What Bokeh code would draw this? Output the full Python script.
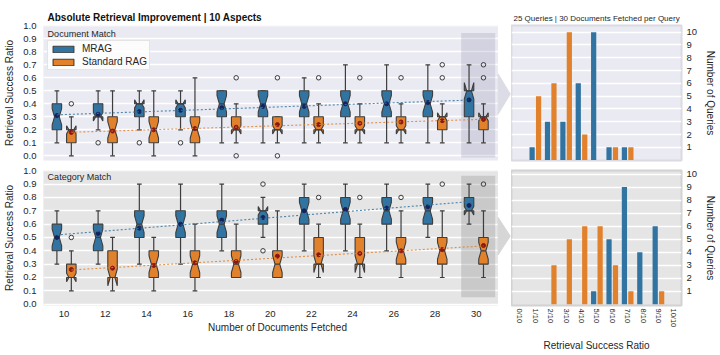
import numpy as np
from bokeh.plotting import figure
from bokeh.models import Range1d, FixedTicker, Legend, LegendItem, PrintfTickFormatter
from bokeh.layouts import column, row
from bokeh.embed import file_html
from bokeh.resources import INLINE
from bokeh.core.properties import value

# ---------------- data ----------------
docs = [10, 12, 14, 16, 18, 20, 22, 24, 26, 28, 30]
y_ticks = [0.0, 0.1, 0.2, 0.3, 0.4, 0.5, 0.6, 0.7, 0.8, 0.9, 1.0]
n_queries = 25

# Document Match - MRAG
doc_mrag_q1 = [0.2, 0.3, 0.3, 0.3, 0.3, 0.3, 0.3, 0.3, 0.3, 0.3, 0.3]
doc_mrag_med = [0.3, 0.3, 0.4, 0.4, 0.4, 0.4, 0.4, 0.4, 0.4, 0.4, 0.5]
doc_mrag_q3 = [0.4, 0.4, 0.4, 0.4, 0.5, 0.5, 0.5, 0.5, 0.5, 0.5, 0.5]
doc_mrag_lo = [0.1, 0.2, 0.2, 0.2, 0.1, 0.1, 0.1, 0.1, 0.1, 0.1, 0.1]
doc_mrag_hi = [0.5, 0.5, 0.5, 0.5, 0.5, 0.5, 0.6, 0.7, 0.7, 0.7, 0.7]
doc_mrag_mean = [0.31, 0.32, 0.34, 0.35, 0.37, 0.38, 0.38, 0.40, 0.40, 0.41, 0.43]
doc_mrag_out_x = [12, 14, 16]
doc_mrag_out_y = [0.1, 0.1, 0.1]

# Document Match - Standard RAG
doc_std_q1 = [0.1, 0.1, 0.1, 0.1, 0.2, 0.2, 0.2, 0.2, 0.2, 0.2, 0.2]
doc_std_med = [0.2, 0.2, 0.2, 0.2, 0.2, 0.2, 0.2, 0.2, 0.2, 0.3, 0.3]
doc_std_q3 = [0.2, 0.3, 0.3, 0.3, 0.3, 0.3, 0.3, 0.3, 0.3, 0.3, 0.3]
doc_std_lo = [0.0, 0.0, 0.0, 0.0, 0.1, 0.1, 0.1, 0.1, 0.1, 0.1, 0.1]
doc_std_hi = [0.3, 0.5, 0.5, 0.6, 0.4, 0.3, 0.4, 0.4, 0.4, 0.4, 0.4]
doc_std_mean = [0.18, 0.19, 0.20, 0.21, 0.22, 0.24, 0.24, 0.25, 0.26, 0.27, 0.28]
doc_std_out_x = [10, 18, 18, 20, 20, 22, 24, 26, 28, 28, 30, 30]
doc_std_out_y = [0.4, 0.6, 0.0, 0.6, 0.0, 0.6, 0.6, 0.6, 0.6, 0.7, 0.6, 0.7]

# Category Match - MRAG
cat_mrag_q1 = [0.4, 0.4, 0.5, 0.5, 0.5, 0.6, 0.6, 0.6, 0.6, 0.6, 0.7]
cat_mrag_med = [0.5, 0.5, 0.6, 0.6, 0.6, 0.7, 0.7, 0.7, 0.7, 0.7, 0.7]
cat_mrag_q3 = [0.6, 0.6, 0.7, 0.7, 0.7, 0.7, 0.8, 0.8, 0.8, 0.8, 0.8]
cat_mrag_lo = [0.3, 0.3, 0.3, 0.3, 0.4, 0.5, 0.4, 0.4, 0.4, 0.5, 0.6]
cat_mrag_hi = [0.7, 0.7, 0.9, 0.9, 0.9, 0.8, 0.9, 0.9, 0.9, 0.9, 0.9]
cat_mrag_mean = [0.50, 0.53, 0.57, 0.60, 0.63, 0.65, 0.70, 0.71, 0.72, 0.73, 0.74]
cat_mrag_out_x = [20, 20]
cat_mrag_out_y = [0.9, 0.4]

# Category Match - Standard RAG
cat_std_q1 = [0.2, 0.2, 0.2, 0.2, 0.2, 0.2, 0.3, 0.3, 0.3, 0.3, 0.3]
cat_std_med = [0.2, 0.2, 0.3, 0.3, 0.3, 0.3, 0.3, 0.3, 0.4, 0.4, 0.4]
cat_std_q3 = [0.3, 0.4, 0.4, 0.4, 0.4, 0.4, 0.5, 0.5, 0.5, 0.5, 0.5]
cat_std_lo = [0.1, 0.1, 0.1, 0.1, 0.2, 0.2, 0.2, 0.2, 0.2, 0.2, 0.2]
cat_std_hi = [0.4, 0.5, 0.5, 0.6, 0.6, 0.7, 0.6, 0.6, 0.7, 0.7, 0.7]
cat_std_mean = [0.26, 0.27, 0.29, 0.31, 0.32, 0.36, 0.37, 0.38, 0.40, 0.41, 0.44]
cat_std_out_x = [10, 22, 24, 26, 28, 30]
cat_std_out_y = [0.5, 0.8, 0.8, 0.8, 0.9, 0.9]

# Histograms (30 documents fetched)
ratio_pos = [0, 1, 2, 3, 4, 5, 6, 7, 8, 9, 10]
ratio_labels = ["0/10", "1/10", "2/10", "3/10", "4/10", "5/10", "6/10", "7/10", "8/10", "9/10", "10/10"]
count_ticks = [1, 2, 3, 4, 5, 6, 7, 8, 9, 10]
doc_mrag_counts = [0, 1, 3, 3, 6, 10, 1, 1, 0, 0, 0]
doc_std_counts = [0, 5, 6, 10, 2, 0, 1, 1, 0, 0, 0]
cat_mrag_counts = [0, 0, 0, 0, 0, 1, 5, 9, 4, 6, 0]
cat_std_counts = [0, 0, 3, 5, 6, 6, 3, 1, 0, 1, 0]

# ---------------- styling ----------------
FONT = "Liberation Sans"
BLUE = "#3274a1"
ORANGE = "#e1812c"
EDGE = "#3d3d3d"
TXT = "#262626"
BOX_W = 0.46
OFF = 0.35
X0, XBG, X1 = 9.0, 31.03, 31.71


def box_polys(xc, q1, med, q3, w):
    xs, ys = [], []
    for x, a, m, b in zip(xc, q1, med, q3):
        d = 1.57 * (b - a) / np.sqrt(n_queries)
        l, r = x - w / 2, x + w / 2
        nl, nr = x - w / 4, x + w / 4
        xs.append([l, r, r, nr, r, r, l, l, nl, l, l])
        ys.append([a, a, m - d, m, m + d, b, b, m + d, m, m - d, a])
    return xs, ys


def draw_series(p, off, q1, med, q3, lo, hi, mean, ox, oy, color, mean_color):
    xc = [x + off for x in docs]
    w = BOX_W
    p.segment(x0=xc, y0=q1, x1=xc, y1=lo, line_color=EDGE, line_width=1.2)
    p.segment(x0=xc, y0=q3, x1=xc, y1=hi, line_color=EDGE, line_width=1.2)
    p.segment(x0=[x - w / 4 for x in xc], y0=lo, x1=[x + w / 4 for x in xc], y1=lo,
              line_color=EDGE, line_width=1.2)
    p.segment(x0=[x - w / 4 for x in xc], y0=hi, x1=[x + w / 4 for x in xc], y1=hi,
              line_color=EDGE, line_width=1.2)
    xs, ys = box_polys(xc, q1, med, q3, w)
    r = p.patches(xs=xs, ys=ys, fill_color=color, line_color=EDGE, line_width=1.1)
    p.segment(x0=[x - w / 4 for x in xc], y0=med, x1=[x + w / 4 for x in xc], y1=med,
              line_color=EDGE, line_width=1.2)
    p.scatter([x + off for x in ox], oy, marker="circle", size=4.5, fill_alpha=0,
              line_color=EDGE, line_width=1)
    p.scatter(xc, mean, marker="circle", size=4, color=mean_color)
    return r, xc


def trend(p, xc, mean, color):
    k, b = np.polyfit(xc, mean, 1)
    xl = [xc[0], xc[-1]]
    p.line(xl, [k * x + b for x in xl], line_color=color, line_width=1.1,
           line_dash="2 2", line_alpha=0.85)


def style_axes(p):
    for ax in p.axis:
        ax.axis_line_color = None
        ax.major_tick_line_color = None
        ax.minor_tick_line_color = None
        ax.major_tick_out = 0
        ax.major_tick_in = 0
        ax.minor_tick_out = 0
        ax.minor_tick_in = 0
        ax.major_label_text_font = FONT
        ax.major_label_text_font_size = "9.5px"
        ax.major_label_text_color = TXT
        ax.axis_label_text_font = FONT
        ax.axis_label_text_font_size = "10px"
        ax.axis_label_text_font_style = "normal"
        ax.axis_label_text_color = TXT
    p.xgrid.grid_line_color = None
    p.ygrid.grid_line_color = "white"
    p.ygrid.grid_line_width = 1.3


def make_left(yr, height, btop, bbot, xloc, bg, hl, hl_alpha, hl_y, arrow_y, arrow_color,
              mrag, std, panel_label, label_y):
    p = figure(width=511, height=height, x_range=Range1d(X0, X1), y_range=Range1d(*yr),
               x_axis_location=xloc,
               min_border_left=43, min_border_right=0, min_border_top=btop,
               min_border_bottom=bbot, output_backend="svg", toolbar_location=None)
    p.yaxis.ticker = FixedTicker(ticks=y_ticks)
    p.yaxis.formatter = PrintfTickFormatter(format="%.1f")
    p.yaxis.axis_label = "Retrieval Success Ratio"
    style_axes(p)
    p.yaxis.major_label_standoff = 7
    p.yaxis.axis_label_standoff = 5
    p.outline_line_color = None
    p.background_fill_color = "white"
    p.quad(left=[X0], right=[XBG], bottom=[-1], top=[2], color=bg, level="image")
    p.quad(left=[29.27], right=[30.92], bottom=[hl_y[0]], top=[hl_y[1]],
           fill_color=hl, fill_alpha=hl_alpha, line_color=None)
    p.patch(x=[XBG + 0.03, XBG + 0.62, XBG + 0.03], y=arrow_y, color=arrow_color)
    rb, xb = draw_series(p, -OFF, *mrag, BLUE, "#16225e")
    ro, xo = draw_series(p, OFF, *std, ORANGE, "#8b1616")
    trend(p, xb, mrag[5], BLUE)
    trend(p, xo, std[5], ORANGE)
    p.text(x=[9.2], y=[label_y], text=[panel_label], text_font=value(FONT),
           text_font_size="9px", text_color=TXT, text_baseline="middle")
    return p, rb, ro


lt, rb, ro = make_left((-0.036, 1.002), 165, 25, 5, None, "#eaeaf2", "#8080a0", 0.22,
                       (-0.013, 0.945), [0.63, 0.475, 0.32], "#dcdce6",
                       (doc_mrag_q1, doc_mrag_med, doc_mrag_q3, doc_mrag_lo, doc_mrag_hi,
                        doc_mrag_mean, doc_mrag_out_x, doc_mrag_out_y),
                       (doc_std_q1, doc_std_med, doc_std_q3, doc_std_lo, doc_std_hi,
                        doc_std_mean, doc_std_out_x, doc_std_out_y),
                       "Document Match", 0.94)
lt.title.text = "Absolute Retrieval Improvement | 10 Aspects"
lt.title.align = "left"
lt.title.offset = 4
lt.title.text_font = FONT
lt.title.text_font_size = "10px"
lt.title.text_font_style = "bold"
lt.title.text_color = "#111111"
lt.title.standoff = 6

legend = Legend(items=[LegendItem(label="MRAG", renderers=[rb]),
                       LegendItem(label="Standard RAG", renderers=[ro])],
                location=(4, 90), background_fill_color="white", background_fill_alpha=0.85,
                border_line_color="#cccccc", border_line_width=1,
                label_text_font=FONT, label_text_font_size="10px", label_text_color=TXT,
                glyph_width=26, glyph_height=8, label_height=10, spacing=2, padding=2,
                label_standoff=6, margin=0)
lt.add_layout(legend)

lb, _, _ = make_left((-0.01, 1.002), 189, 5, 48, "below", "#e5e5e5", "#888888", 0.3,
                     (0.052, 0.963), [0.65, 0.51, 0.37], "#d6d6d6",
                     (cat_mrag_q1, cat_mrag_med, cat_mrag_q3, cat_mrag_lo, cat_mrag_hi,
                      cat_mrag_mean, cat_mrag_out_x, cat_mrag_out_y),
                     (cat_std_q1, cat_std_med, cat_std_q3, cat_std_lo, cat_std_hi,
                      cat_std_mean, cat_std_out_x, cat_std_out_y),
                     "Category Match", 0.955)
lb.xaxis.ticker = FixedTicker(ticks=docs)
lb.xaxis.axis_label = "Number of Documents Fetched"
lb.xaxis.major_label_standoff = 5
lb.xaxis.axis_label_standoff = 2


def make_right(yr, height, btop, bbot, xloc, bg, outline, mrag_counts, std_counts):
    p = figure(width=208, height=height, x_range=Range1d(-0.55, 10.5), y_range=Range1d(*yr),
               y_axis_location="right", x_axis_location=xloc,
               min_border_left=0, min_border_right=36,
               min_border_top=btop, min_border_bottom=bbot,
               output_backend="svg", toolbar_location=None)
    p.background_fill_color = bg
    p.outline_line_color = outline
    p.outline_line_width = 2
    p.vbar(x=[x - 0.21 for x in ratio_pos], top=mrag_counts, width=0.34,
           fill_color=BLUE, line_color=None)
    p.vbar(x=[x + 0.21 for x in ratio_pos], top=std_counts, width=0.34,
           fill_color=ORANGE, line_color=None)
    p.yaxis.ticker = FixedTicker(ticks=count_ticks)
    p.yaxis.axis_label = "Number of Queries"
    p.xaxis.ticker = FixedTicker(ticks=ratio_pos)
    p.xaxis.major_label_overrides = {i: ratio_labels[i] for i in ratio_pos}
    style_axes(p)
    p.yaxis.major_label_standoff = 5
    p.yaxis.axis_label_standoff = 5
    return p


rt = make_right((-0.03, 10.52), 165, 25, 4, None, "#eaeaf2", "#dadae2",
                doc_mrag_counts, doc_std_counts)
rt.title.text = "25 Queries | 30 Documents Fetched per Query"
rt.title.align = "left"
rt.title.offset = 2
rt.title.text_font = FONT
rt.title.text_font_size = "8px"
rt.title.text_font_style = "normal"
rt.title.text_color = TXT
rt.title.standoff = 6

rbt = make_right((-0.09, 10.27), 189, 3, 46, "below", "#e5e5e5", "#d2d2d2",
                 cat_mrag_counts, cat_std_counts)
rbt.xaxis.major_label_orientation = "vertical"
rbt.xaxis.major_label_text_font_size = "7.5px"
rbt.xaxis.major_label_standoff = 3
rbt.xaxis.axis_label = "Retrieval Success Ratio"
rbt.xaxis.axis_label_standoff = 10

layout = column(row(lt, rt), row(lb, rbt))
open("out.html", "w").write(file_html(layout, INLINE))
